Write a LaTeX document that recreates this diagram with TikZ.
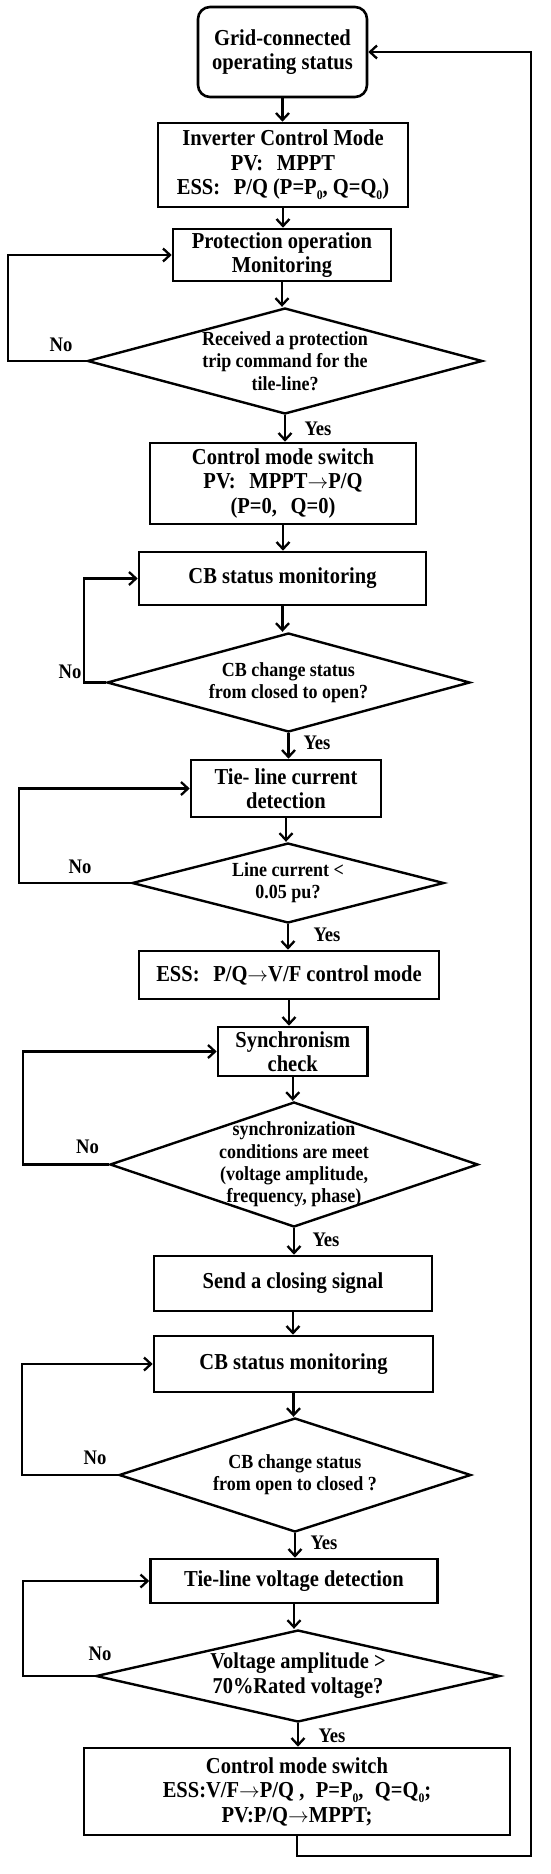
\documentclass[tikz,border=0pt]{standalone}
\usepackage{fontspec}
\setmainfont{Liberation Serif}[FakeStretch=0.9]
\usepackage{tikz}
\usetikzlibrary{shapes.geometric, arrows.meta}

\newcommand{\lowidx}[1]{\raisebox{-0.45ex}{\fontsize{13}{13}\selectfont #1}}
\newcommand{\tto}{\ensuremath{\rightarrow}}
\tikzset{
  procbox/.style={draw, line width=2.6pt, rectangle, inner sep=0pt, align=center,
    font=\fontsize{22.8}{24.5}\selectfont\bfseries},
  testbox/.style={draw, line width=2.4pt, diamond, inner sep=0pt},
  testtext/.style={align=center, font=\fontsize{20}{22.3}\selectfont\bfseries},
  flow/.style={line width=2.3pt, -{Straight Barb[length=7pt,width=13pt]}},
  branch/.style={font=\fontsize{20.7}{22}\selectfont\bfseries},
}

\begin{document}
\begin{tikzpicture}[x=1pt, y=-1pt]
\path[fill=white, use as bounding box] (0,0) rectangle (550,1874);

\node[procbox, rounded corners=12pt, minimum width=169pt, minimum height=90pt] (start) at (282.5,52) {Grid-connected\\operating status};
\node[procbox, minimum width=250pt, minimum height=84pt] (mode) at (283,165) {Inverter Control Mode\\PV:\hspace{0.6em}MPPT\\ESS:\hspace{0.6em}P/Q (P=P\lowidx{0}, Q=Q\lowidx{0})};
\node[procbox, minimum width=218pt, minimum height=52pt] (prot) at (282,255) {Protection operation\\Monitoring};
\node[testbox, minimum width=395pt, minimum height=106pt, label={[testtext]center:{Received a protection\\trip command for the\\tile-line?}}] (trip) at (285,361) {};
\node[procbox, minimum width=266pt, minimum height=81pt] (sw1) at (283,483.5) {Control mode switch\\PV:\hspace{0.6em}MPPT\tto P/Q\\(P=0,\hspace{0.6em}Q=0)};
\node[procbox, minimum width=287pt, minimum height=53pt] (cb1) at (282.5,578.5) {CB status monitoring};
\node[testbox, minimum width=363pt, minimum height=99pt, label={[testtext]center:{CB change status\\from closed to open?}}] (open) at (288.5,682.5) {};
\node[procbox, minimum width=190pt, minimum height=57pt] (cur) at (286,788.5) {Tie- line current\\detection};
\node[testbox, minimum width=312pt, minimum height=80pt, label={[testtext]center:{Line current <\\0.05 pu?}}] (lim) at (288,883) {};
\node[procbox, minimum width=300pt, minimum height=48pt] (vf) at (289,975) {ESS:\hspace{0.6em}P/Q\tto V/F control mode};
\node[procbox, minimum width=149.5pt, minimum height=49pt] (syn) at (292.75,1051.5) {Synchronism\\check};
\node[testbox, minimum width=368pt, minimum height=125pt, label={[testtext]center:{synchronization\\conditions are meet\\(voltage amplitude,\\frequency, phase)}}] (cond) at (294,1164.5) {};
\node[procbox, minimum width=278pt, minimum height=55pt] (close) at (293,1283.5) {Send a closing signal};
\node[procbox, minimum width=279pt, minimum height=56pt] (cb2) at (293.5,1364) {CB status monitoring};
\node[testbox, minimum width=352pt, minimum height=114pt, label={[testtext]center:{CB change status\\from open to closed ?}}] (shut) at (295,1475) {};
\node[procbox, minimum width=287pt, minimum height=44pt] (volt) at (294,1581) {Tie-line voltage detection};
\node[testbox, minimum width=404pt, minimum height=92pt, label={[testtext, font=\fontsize{22.7}{25}\selectfont\bfseries]center:{Voltage amplitude >\\70\%Rated voltage?}}] (rated) at (298,1676) {};
\node[procbox, minimum width=426pt, minimum height=87pt] (back) at (297,1791.5) {Control mode switch\\ESS:V/F\tto P/Q ,\hspace{0.5em}P=P\lowidx{0},\hspace{0.5em}Q=Q\lowidx{0};\\PV:P/Q\tto MPPT;};

\node[branch] (no1) at (61,345) {No};
\node[branch] (no2) at (70,672) {No};
\node[branch] (no3) at (80,867) {No};
\node[branch] (no4) at (87.5,1147) {No};
\node[branch] (no5) at (95,1458) {No};
\node[branch] (no6) at (100,1654) {No};
\node[branch] (yes1) at (318,429) {Yes};
\node[branch] (yes2) at (317,743) {Yes};
\node[branch] (yes3) at (327,935) {Yes};
\node[branch] (yes4) at (326,1240) {Yes};
\node[branch] (yes5) at (324,1543) {Yes};
\node[branch] (yes6) at (332,1736) {Yes};

\draw[flow] (start) -- (start |- mode.north);
\draw[flow] (mode) -- (mode |- prot.north);
\draw[flow] (prot) -- (prot |- trip.north);
\draw[flow] (trip) -- (trip |- sw1.north);
\draw[flow] (sw1) -- (sw1 |- cb1.north);
\draw[flow] (cb1) -- (cb1 |- open.north);
\draw[flow] (open) -- (open |- cur.north);
\draw[flow] (cur) -- (cur |- lim.north);
\draw[flow] (lim) -- (lim |- vf.north);
\draw[flow] (vf) -- (vf |- syn.north);
\draw[flow] (syn) -- (syn |- cond.north);
\draw[flow] (cond) -- (cond |- close.north);
\draw[flow] (close) -- (close |- cb2.north);
\draw[flow] (cb2) -- (cb2 |- shut.north);
\draw[flow] (shut) -- (shut |- volt.north);
\draw[flow] (volt) -- (volt |- rated.north);
\draw[flow] (rated) -- (rated |- back.north);

\draw[flow] (trip.west) -- ++(-78,0) |- (prot.west);
\draw[flow] (open.west) -- ++(-22,0) |- (cb1.west);
\draw[flow] (lim.west) -- ++(-112,0) |- (cur.west);
\draw[flow] (cond.west) -- ++(-86,0) |- (syn.west);
\draw[flow] (shut.west) -- ++(-96,0) |- (cb2.west);
\draw[flow] (rated.west) -- ++(-71.5,0) |- (volt.west);

\coordinate (ret) at (531,1856);
\draw[flow] (back.south) |- (ret) |- (start.east);
\end{tikzpicture}
\end{document}
